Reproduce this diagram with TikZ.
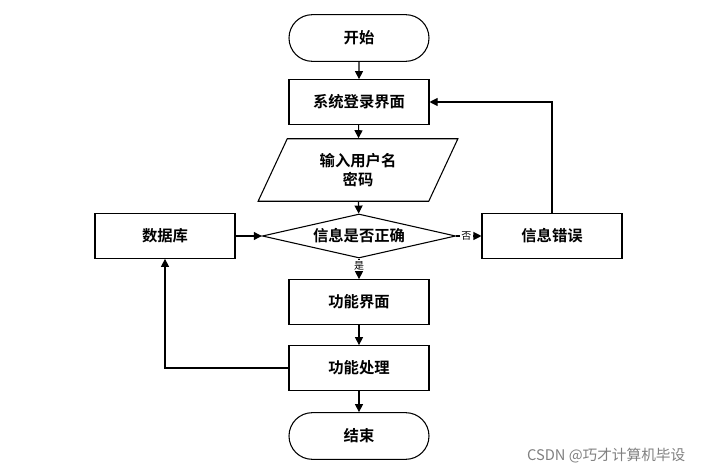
\documentclass[tikz,border=0pt]{standalone}
\usepackage{fontspec}
\setmainfont{Liberation Serif}
\newfontfamily\cjk{Noto Sans CJK SC}
\newfontfamily\cjkb{Noto Sans CJK SC Bold}
\usetikzlibrary{shapes.geometric,shapes.misc,arrows.meta}
\begin{document}
\begin{tikzpicture}[x=0.75pt,y=-0.75pt,
  base/.style={draw,line width=0.8pt,minimum width=105pt,minimum height=33.5pt,inner sep=0pt,font=\cjkb\fontsize{11.5}{14.5}\selectfont,align=center},
  box/.style={base,rectangle},
  term/.style={base,rounded rectangle,minimum height=35pt},
  arr/.style={line width=0.8pt,-{Triangle[length=6pt,width=6pt]}},
  lab/.style={font=\cjk\fontsize{7.5}{9}\selectfont,fill=white,inner sep=1pt}]
\useasboundingbox (0,0) rectangle (704,474);
\node[term] (s) at (359,38) {开始};
\node[box] (l) at (359,102) {系统登录界面};
\node[base,trapezium,trapezium left angle=65,trapezium right angle=115,minimum width=150pt,minimum height=33.5pt] (i) at (358,170) {输入用户名\\密码};
\node[base,diamond,aspect=4.4,minimum width=145pt,minimum height=33pt] (d) at (359,236) {信息是否正确};
\node[box] (db) at (165,236) {数据库};
\node[box] (e) at (552,236) {信息错误};
\node[box] (f) at (359,302) {功能界面};
\node[box] (p) at (359,368) {功能处理};
\node[term] (t) at (359,436) {结束};
\draw[arr] (s) -- (l);
\draw[arr] (l) -- (i);
\draw[arr] (i) -- (d);
\draw[arr] (db) -- (d);
\draw[arr] (d) -- node[lab,pos=0.4]{否} (e);
\draw[arr] (e.north) |- (l.east);
\draw[arr] (d) -- node[lab,pos=0.35]{是} (f);
\draw[arr] (f) -- (p);
\draw[arr] (p.west) -| (db.south);
\draw[arr] (p) -- (t);
\node[font=\cjk\fontsize{11}{13}\selectfont,text=gray,anchor=east] (w) at (690,456) {CSDN @巧才计算机毕设};
\end{tikzpicture}
\end{document}
